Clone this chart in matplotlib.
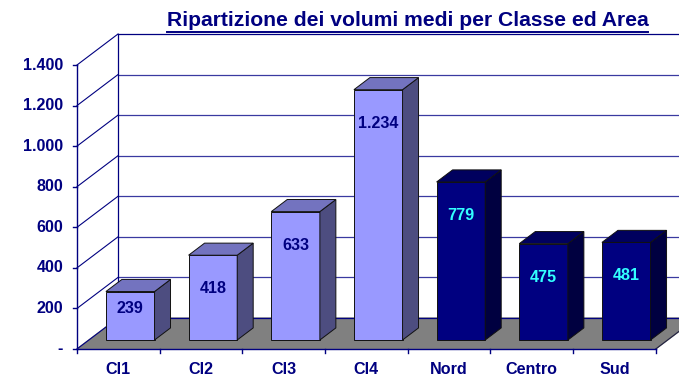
"""3D-style column chart: average volumes by class and area."""

import matplotlib
matplotlib.use("Agg")
import matplotlib.pyplot as plt
from matplotlib.lines import Line2D
import numpy as np

categories = ["Cl1", "Cl2", "Cl3", "Cl4", "Nord", "Centro", "Sud"]
volumes = [239, 418, 633, 1234, 779, 475, 481]
is_area = [False, False, False, False, True, True, True]
y_ticks = [0, 200, 400, 600, 800, 1000, 1200, 1400]
y_tick_labels = ["-", "200", "400", "600", "800", "1.000", "1.200", "1.400"]
title = "Ripartizione dei volumi medi per Classe ed Area"

NAVY = "#000080"
GRID = "#3A3AA0"
FS = 11.6
plt.rcParams["font.family"] = ["Liberation Sans", "DejaVu Sans"]

W, H, DPI = 679, 375, 100
fig = plt.figure(figsize=(W / DPI, H / DPI), dpi=DPI)
ax = fig.add_axes([0, 0, 1, 1])
ax.set_axis_off()

# pixel layout of the front plane
x0_px, cat_px = 77.0, 82.67
y0_px, unit_px = 349.0, 284.0 / 1400
ax.set_xlim(-x0_px / cat_px, (W - x0_px) / cat_px)
ax.set_ylim(-(H - y0_px) / unit_px, y0_px / unit_px)

# oblique depth offset in data units
DX = 41 / cat_px
DY = 31 / unit_px
n = len(categories)
top = y_ticks[-1]

# floor
ax.fill([0, n, n + DX, DX], [0, 0, DY, DY], color="#808080", zorder=1)
ax.plot([n, n + DX], [0, DY], color="#202040", lw=0.8, zorder=2)

# back and side walls with gridlines
xmax = ax.get_xlim()[1]
for v in y_ticks:
    c = NAVY if v in (0, top) else GRID
    ax.plot([DX, xmax], [v + DY, v + DY], color=c, lw=0.9, zorder=2)
    ax.plot([0, DX], [v, v + DY], color=NAVY, lw=0.8, zorder=2)
ax.plot([DX, DX], [DY, top + DY], color=NAVY, lw=0.9, zorder=2)
ax.plot([0, 0], [0, top], color=NAVY, lw=1.0, zorder=2)
ax.plot([0, n], [0, 0], color=NAVY, lw=1.0, zorder=2)

# tick marks and labels
tick_x = 4 / cat_px
tick_y = 4 / unit_px
for v, lab in zip(y_ticks, y_tick_labels):
    ax.plot([-tick_x, 0], [v, v], color=NAVY, lw=1.0, zorder=2)
    ax.text(-14 / cat_px, v, lab, ha="right", va="center", fontsize=FS,
            fontweight="bold", color=NAVY)
for i in range(n + 1):
    ax.plot([i, i], [0, -tick_y], color=NAVY, lw=1.0, zorder=2)
for i, cat in enumerate(categories):
    ax.text(i + 0.5, -20 / unit_px, cat, ha="center", va="center",
            fontsize=FS, fontweight="bold", color=NAVY)

# bars
half_w = 0.294
d0, d1 = 0.29, 0.68
for i, (v, area) in enumerate(zip(volumes, is_area)):
    if area:
        front, side, cap, txt = "#000080", "#000040", "#00005E", "#33FFFF"
    else:
        front, side, cap, txt = "#9999FF", "#4D4D80", "#7373BF", NAVY
    xl = i + 0.5 - half_w + d0 * DX
    xr = i + 0.5 + half_w + d0 * DX
    yb = d0 * DY
    yt = v + d0 * DY
    ddx = (d1 - d0) * DX
    ddy = (d1 - d0) * DY
    z = 3 + i
    edge = dict(edgecolor="#111111", linewidth=0.7, zorder=z)
    ax.fill([xl, xr, xr, xl], [yb, yb, yt, yt], facecolor=front, **edge)
    ax.fill([xr, xr + ddx, xr + ddx, xr], [yb, yb + ddy, yt + ddy, yt],
            facecolor=side, **edge)
    ax.fill([xl, xr, xr + ddx, xl + ddx], [yt, yt, yt + ddy, yt + ddy],
            facecolor=cap, **edge)
    label_y = v - 165 if v > 330 else v * 0.66
    ax.text((xl + xr) / 2, label_y + yb, f"{v:,}".replace(",", "."),
            ha="center", va="center", fontsize=FS, fontweight="bold",
            color=txt, zorder=20)

# underlined title
t = fig.text(407.5 / W, 1 - 21 / H, title, ha="center", va="center",
             fontsize=15.2, fontweight="bold", color=NAVY)
fig.canvas.draw()
bb = t.get_window_extent()
uy = (H - 32) / H
fig.add_artist(Line2D([bb.x0 / W, bb.x1 / W], [uy, uy], color=NAVY,
                      lw=1.4, transform=fig.transFigure))

fig.savefig("out.png", dpi=DPI)
